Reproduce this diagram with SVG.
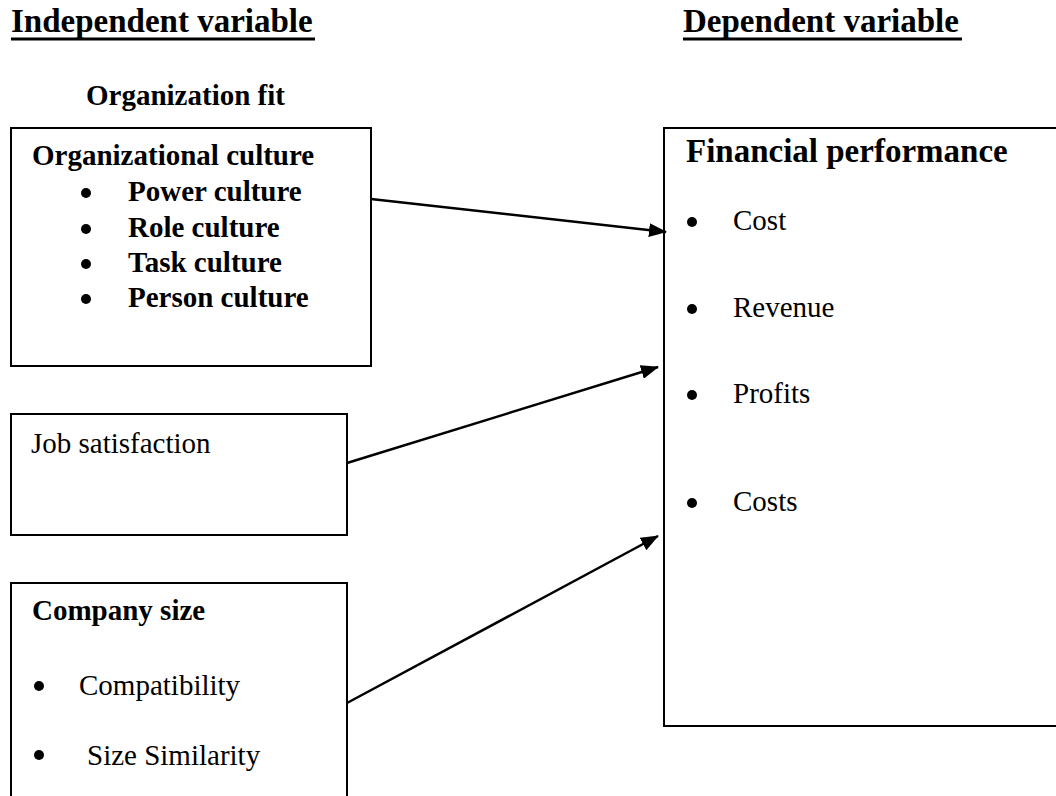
<svg xmlns="http://www.w3.org/2000/svg" width="1056" height="796" viewBox="0 0 1056 796">
  <style>
    text { font-family: "Liberation Serif", "Times New Roman", serif; fill: #000; }
    .head { font-size: 33px; font-weight: bold; }
    .title { font-size: 33px; font-weight: bold; }
    .b { font-size: 29px; font-weight: bold; }
    .r { font-size: 29px; }
    .box { fill: #fff; stroke: #000; stroke-width: 2; }
    .ul { stroke: #000; stroke-width: 3; }
    .edge { stroke: #000; stroke-width: 2.5; fill: none; marker-end: url(#arrow); }
  </style>
  <defs>
    <marker id="arrow" markerUnits="userSpaceOnUse" markerWidth="18" markerHeight="14" refX="17" refY="7" orient="auto">
      <path d="M0,0 L18,7 L0,14 Z" fill="#000"/>
    </marker>
  </defs>
  <rect width="1056" height="796" fill="#fff"/>

  <!-- column headings -->
  <g id="heading-independent">
    <text class="head" x="11" y="32">Independent variable</text>
    <line class="ul" x1="11" y1="39" x2="315" y2="39"/>
  </g>
  <g id="heading-dependent">
    <text class="head" x="683" y="32">Dependent variable</text>
    <line class="ul" x1="683" y1="39" x2="962" y2="39"/>
  </g>
  <g id="label-organization-fit">
    <text class="b" x="86" y="105">Organization fit</text>
  </g>

  <!-- independent variable boxes -->
  <g id="node-culture">
    <rect class="box" x="11" y="128" width="360" height="238"/>
    <text class="b" x="32" y="165">Organizational culture</text>
    <circle cx="86" cy="193" r="5"/><text class="b" x="128" y="201">Power culture</text>
    <circle cx="86" cy="229" r="5"/><text class="b" x="128" y="237">Role culture</text>
    <circle cx="86" cy="264" r="5"/><text class="b" x="128" y="272">Task culture</text>
    <circle cx="86" cy="299" r="5"/><text class="b" x="128" y="307">Person culture</text>
  </g>
  <g id="node-job-satisfaction">
    <rect class="box" x="11" y="414" width="336" height="121"/>
    <text class="r" x="31" y="453">Job satisfaction</text>
  </g>
  <g id="node-company-size">
    <rect class="box" x="11" y="583" width="336" height="230"/>
    <text class="b" x="32" y="620">Company size</text>
    <circle cx="39" cy="686" r="5"/><text class="r" x="79" y="695">Compatibility</text>
    <circle cx="39" cy="755" r="5"/><text class="r" x="87" y="765">Size Similarity</text>
  </g>

  <!-- dependent variable box -->
  <g id="node-financial">
    <rect class="box" x="664" y="128" width="420" height="598"/>
    <text class="title" x="686" y="162">Financial performance</text>
    <circle cx="692" cy="222" r="5"/><text class="r" x="733" y="230">Cost</text>
    <circle cx="692" cy="309" r="5"/><text class="r" x="733" y="317">Revenue</text>
    <circle cx="692" cy="395" r="5"/><text class="r" x="733" y="403">Profits</text>
    <circle cx="692" cy="503" r="5"/><text class="r" x="733" y="511">Costs</text>
  </g>

  <!-- connectors -->
  <g id="connectors">
    <line class="edge" x1="371" y1="199" x2="666" y2="232"/>
    <line class="edge" x1="347" y1="463" x2="658" y2="367"/>
    <line class="edge" x1="347" y1="703" x2="658" y2="536"/>
  </g>
</svg>
